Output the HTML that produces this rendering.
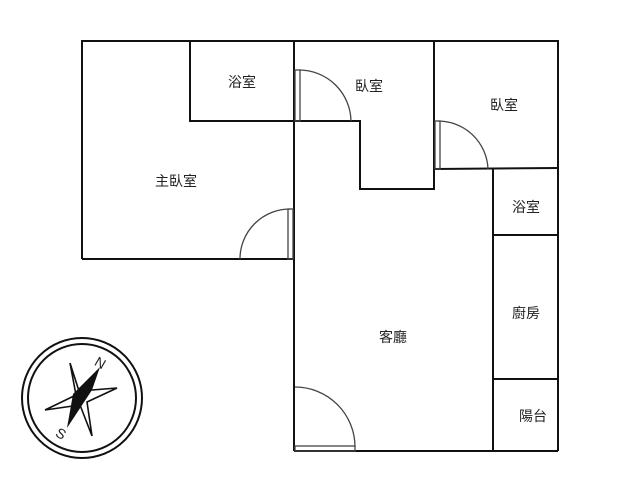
<!DOCTYPE html>
<html><head><meta charset="utf-8"><style>
body{margin:0;background:#fff;width:640px;height:480px;overflow:hidden}
text{font-family:"Liberation Sans","Noto Sans CJK TC",sans-serif;font-size:14px;fill:#222}
</style></head><body>
<svg width="640" height="480" viewBox="0 0 640 480" xmlns="http://www.w3.org/2000/svg">
<g fill="none" stroke="#111" stroke-width="2">
<polyline points="82,259 82,41 559,41"/>
<line x1="82" y1="259" x2="294" y2="259"/>
<polyline points="190,41 190,121 294,121"/>
<line x1="294" y1="41" x2="294" y2="451"/>
<polyline points="294,121 360,121 360,189 434,189 434,41"/>
<polyline points="434,169 558,168"/>
<line x1="558" y1="41" x2="558" y2="451"/>
<line x1="493" y1="169" x2="493" y2="451"/>
<line x1="493" y1="235" x2="558" y2="235"/>
<line x1="493" y1="379" x2="558" y2="379"/>
<line x1="294" y1="451" x2="558" y2="451"/>
</g>
<g fill="none" stroke="#444" stroke-width="1.3">
<path d="M240,259 A50,50 0 0 1 290,209"/>
<rect x="288" y="209" width="5" height="50"/>
<path d="M299,70 A52,52 0 0 1 351,121"/>
<rect x="295" y="70" width="5" height="51"/>
<path d="M438,121 A50,50 0 0 1 488,169"/>
<rect x="435" y="121" width="5" height="48"/>
<path d="M295,387 A60,60 0 0 1 355,447"/>
<rect x="295" y="446" width="60" height="5"/>
</g>
<g transform="translate(82,398)">
<circle r="60" fill="none" stroke="#111" stroke-width="2"/>
<circle r="54" fill="none" stroke="#111" stroke-width="2"/>
<polygon points="-12,-35 -3,-7 35,-10 5,4 10,38 -2,7 -37,12 -6,-3" fill="none" stroke="#111" stroke-width="1.6"/>
<polygon points="18,-31 10,-8 -15,30 -9,-4" fill="#111"/>
<text x="13" y="-31" font-size="11" transform="rotate(30 17 -35)">N</text>
<text x="-26" y="40" font-size="11" transform="rotate(30 -22 36)">S</text>
</g>
<text x="228" y="87">浴室</text>
<text x="355" y="91">臥室</text>
<text x="490" y="110">臥室</text>
<text x="155" y="186">主臥室</text>
<text x="512" y="212">浴室</text>
<text x="512" y="318">廚房</text>
<text x="379" y="342">客廳</text>
<text x="519" y="421">陽台</text>
</svg>
</body></html>
